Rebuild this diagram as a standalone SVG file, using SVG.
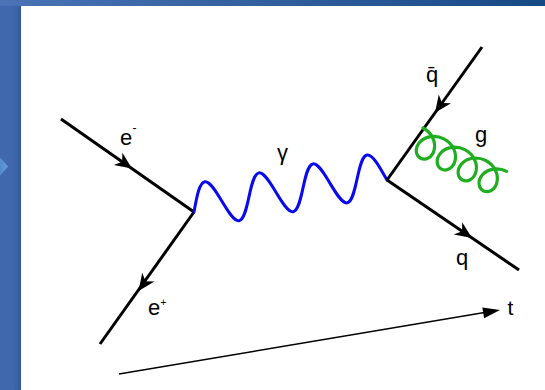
<svg xmlns="http://www.w3.org/2000/svg" width="545" height="390" viewBox="0 0 545 390">
  <defs>
    <linearGradient id="topband" x1="0" y1="0" x2="1" y2="0">
      <stop offset="0" stop-color="#4b73b5"/>
      <stop offset="1" stop-color="#174985"/>
    </linearGradient>
    <linearGradient id="leftshade" x1="0" y1="0" x2="1" y2="0">
      <stop offset="0" stop-color="#3f68ad" stop-opacity="0"/>
      <stop offset="1" stop-color="#2f5896"/>
    </linearGradient>
    <linearGradient id="diam" x1="0" y1="0" x2="1" y2="0">
      <stop offset="0" stop-color="#4d86cc"/>
      <stop offset="1" stop-color="#6a9ddb"/>
    </linearGradient>
    <path id="farrow" d="M0,0 L-17,-7.5 L-12,0 L-17,7.5 Z" fill="#000"/>
    <path id="tarrow" d="M0,0 L-17,-5.5 L-17,5.5 Z" fill="#000"/>
  </defs>
  <style>
    .fermion { stroke: #000; stroke-width: 3; fill: none; }
    .photon { stroke: #0a0aee; stroke-width: 3; fill: none; stroke-linecap: round; }
    .gluon { stroke: #1fae1f; stroke-width: 3.2; fill: none; stroke-linecap: round; }
    .time { stroke: #000; stroke-width: 1.5; fill: none; }
    .lbl { font-family: "Liberation Sans", Arial, sans-serif; font-size: 22px; fill: #000; }
    .sup { font-family: "Liberation Sans", Arial, sans-serif; font-size: 12px; fill: #000; }
  </style>

  <g id="background">
    <rect x="0" y="0" width="545" height="390" fill="#3f68ad"/>
    <rect x="0" y="0" width="545" height="6" fill="url(#topband)"/>
    <rect x="12" y="6" width="9" height="384" fill="url(#leftshade)"/>
    <polygon points="-2,155 8,166.5 -2,178" fill="url(#diam)"/>
    <rect x="21" y="6" width="524" height="384" fill="#ffffff"/>
  </g>

  <g id="connectors">
    <g id="e-minus">
      <path class="fermion" d="M61,119 L194,212"/>
      <use href="#farrow" transform="translate(132,168.6) rotate(34.96)"/>
    </g>
    <g id="e-plus">
      <path class="fermion" d="M194,212 L100,344"/>
      <use href="#farrow" transform="translate(138.5,291) rotate(125.45)"/>
    </g>
    <g id="photon">
      <path class="photon" transform="translate(194,212) rotate(-9.41)" d="M0,0 C5.21,-14.7 9.98,-28 15.6,-28 C25.6,-28 33,16 43,16 S60.4,-28 70.4,-28 S87.8,16 97.8,16 S115.2,-28 125.2,-28 S142.6,16 152.6,16 S170,-28 180,-28 C185.62,-28 190.39,-14.7 195.6,0"/>
    </g>
    <g id="qbar">
      <path class="fermion" d="M482,47 L387,180"/>
      <use href="#farrow" transform="translate(435,112.8) rotate(125.54)"/>
    </g>
    <g id="quark">
      <path class="fermion" d="M387,180 L519,270"/>
      <use href="#farrow" transform="translate(472,238) rotate(34.29)"/>
    </g>
    <g id="gluon">
      <path class="gluon" transform="translate(423,128) rotate(27.4)" d="M0,0 c4.647,0 9.271,1.508 12.844,4.1 c3.573,2.592 6.064,6.235 7.046,9.9 c0.982,3.665 0.455,7.307 -1.155,9.899 c-1.61,2.592 -4.271,4.101 -6.954,4.101 c-2.683,0 -5.344,-1.509 -6.954,-4.101 c-1.61,-2.592 -2.138,-6.234 -1.156,-9.899 c0.982,-3.665 3.474,-7.308 7.047,-9.9 c3.573,-2.592 8.197,-4.1 12.844,-4.1 c4.647,0 9.271,1.508 12.844,4.1 c3.573,2.592 6.064,6.235 7.046,9.9 c0.982,3.665 0.455,7.307 -1.155,9.899 c-1.61,2.592 -4.271,4.101 -6.954,4.101 c-2.683,0 -5.344,-1.509 -6.954,-4.101 c-1.61,-2.592 -2.138,-6.234 -1.156,-9.899 c0.982,-3.665 3.474,-7.308 7.047,-9.9 c3.573,-2.592 8.197,-4.1 12.844,-4.1 c4.647,0 9.271,1.508 12.844,4.1 c3.573,2.592 6.064,6.235 7.046,9.9 c0.982,3.665 0.455,7.307 -1.155,9.899 c-1.61,2.592 -4.271,4.101 -6.954,4.101 c-2.683,0 -5.344,-1.509 -6.954,-4.101 c-1.61,-2.592 -2.138,-6.234 -1.156,-9.899 c0.982,-3.665 3.474,-7.308 7.047,-9.9 c3.573,-2.592 8.197,-4.1 12.844,-4.1 c4.647,0 9.271,1.508 12.844,4.1 c3.573,2.592 6.064,6.235 7.046,9.9 c0.982,3.665 0.455,7.307 -1.155,9.899 c-1.61,2.592 -4.271,4.101 -6.954,4.101 c-2.683,0 -5.344,-1.509 -6.954,-4.101 c-1.61,-2.592 -2.138,-6.234 -1.156,-9.899 c0.982,-3.665 3.474,-7.308 7.047,-9.9 c3.573,-2.592 8.197,-4.1 12.844,-4.1"/>
    </g>
    <g id="time-axis">
      <path class="time" d="M119,374 L486,312.3"/>
      <use href="#tarrow" transform="translate(500,310) rotate(-9.54)"/>
    </g>
  </g>

  <g id="labels">
    <g id="label-e-minus">
      <text class="lbl" x="120" y="145">e</text>
      <text class="sup" x="132.5" y="132">-</text>
    </g>
    <g id="label-e-plus">
      <text class="lbl" x="148" y="315">e</text>
      <text class="sup" x="160.5" y="306" style="font-size:10px">+</text>
    </g>
    <text id="label-gamma" class="lbl" x="277" y="160">γ</text>
    <text id="label-qbar" class="lbl" x="426" y="82">q̄</text>
    <text id="label-g" class="lbl" x="475" y="141.5">g</text>
    <text id="label-q" class="lbl" x="456" y="265">q</text>
    <text id="label-t" class="lbl" x="507.5" y="315" style="font-size:21px">t</text>
  </g>
</svg>
